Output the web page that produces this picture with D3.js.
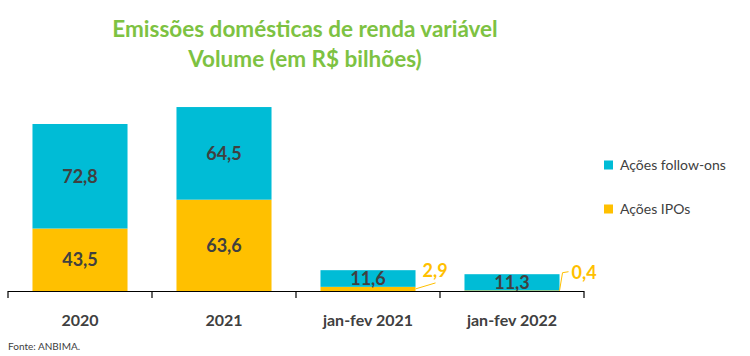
<!DOCTYPE html>
<html><head><meta charset="utf-8">
<script src="https://cdn.jsdelivr.net/npm/d3@7"></script>
<style>body{margin:0;background:#fff}svg{display:block;font-family:Lato,"Open Sans",sans-serif}</style>
</head><body><svg id="c" width="750" height="356"></svg>
<script>
const categories = ["2020","2021","jan-fev 2021","jan-fev 2022"];
const ipos = [43.5, 63.6, 2.9, 0.4];
const followOns = [72.8, 64.5, 11.6, 11.3];
const seriesNames = ["Ações follow-ons","Ações IPOs"];
const titleLines = ["Emissões domésticas de renda variável","Volume (em R$ bilhões)"];
const source = "Fonte: ANBIMA.";

const cyan = "#00BCD6", yellow = "#FFC000", dark = "#404040";
const svg = d3.select("#c");
const fmt = v => d3.format(".1f")(v).replace(".", ",");

const x = d3.scaleBand().domain(categories).range([8, 584]).paddingInner(0.34).paddingOuter(0.17);
const y = d3.scaleLinear().domain([0, 100]).range([291, 147.4]);

const data = categories.map((c,i)=>({c, ipo: ipos[i], fo: followOns[i]}));

// bars
const g = svg.append("g");
g.selectAll(".ipo").data(data).join("rect")
  .attr("x", d=>x(d.c)).attr("width", x.bandwidth())
  .attr("y", d=>y(d.ipo)).attr("height", d=>y(0)-y(d.ipo)).attr("fill", yellow);
g.selectAll(".fo").data(data).join("rect")
  .attr("x", d=>x(d.c)).attr("width", x.bandwidth())
  .attr("y", d=>y(d.ipo+d.fo)).attr("height", d=>y(d.ipo)-y(d.ipo+d.fo)).attr("fill", cyan);

// axis
const axis = svg.append("g");
axis.append("line").attr("x1",8).attr("x2",584).attr("y1",y(0)+0.5).attr("y2",y(0)+0.5).attr("stroke","#000").attr("stroke-width",1.2);
const bounds = categories.map((_,i)=>8+i*x.step());
bounds.push(584);
axis.selectAll(".t").data(bounds).join("line")
  .attr("x1",d=>d).attr("x2",d=>d).attr("y1",y(0)).attr("y2",y(0)+7).attr("stroke","#000").attr("stroke-width",1.2);
axis.selectAll(".cl").data(categories).join("text")
  .attr("x", d=>x(d)+x.bandwidth()/2).attr("y", 326).attr("text-anchor","middle")
  .attr("font-size",16).attr("font-weight","bold").attr("fill",dark).text(d=>d);

// value labels
const big = data.filter(d=>d.ipo>10);
g.selectAll(".li").data(big).join("text")
  .attr("x", d=>x(d.c)+x.bandwidth()/2).attr("y", d=>(y(0)+y(d.ipo))/2+6.5)
  .attr("text-anchor","middle").attr("font-size",18).attr("font-weight","bold").attr("fill",dark).text(d=>fmt(d.ipo));
g.selectAll(".lf").data(data).join("text")
  .attr("x", d=>x(d.c)+x.bandwidth()/2).attr("y", d=>(y(d.ipo)+y(d.ipo+d.fo))/2+6.5)
  .attr("text-anchor","middle").attr("font-size",18).attr("font-weight","bold").attr("fill",dark).text(d=>fmt(d.fo));

// callouts for small IPO values
const small = data.filter(d=>d.ipo<10);
small.forEach((d,i)=>{
  const xr = x(d.c)+x.bandwidth();
  const ym = y(d.ipo/2);
  if(i===0){
    svg.append("polyline").attr("points",`${xr},${ym} ${xr+20},${ym-6}`).attr("fill","none").attr("stroke",yellow).attr("stroke-width",1);
    svg.append("text").attr("x",xr+7).attr("y",ym-12).attr("font-size",18).attr("font-weight","bold").attr("fill",yellow).text(fmt(d.ipo));
  } else {
    svg.append("polyline").attr("points",`${xr},${ym} ${xr+3},${ym-18} ${xr+9},${ym-19}`).attr("fill","none").attr("stroke",yellow).attr("stroke-width",1);
    svg.append("text").attr("x",xr+12).attr("y",ym-12).attr("font-size",18).attr("font-weight","bold").attr("fill",yellow).text(fmt(d.ipo));
  }
});

// title
svg.selectAll(".title").data(titleLines).join("text")
  .attr("x",305).attr("y",(d,i)=>37+i*30).attr("text-anchor","middle")
  .attr("font-size",22.5).attr("font-weight","bold").attr("fill","#7DC242").text(d=>d);

// legend
const lg = svg.append("g");
const lc = [cyan, yellow];
seriesNames.forEach((n,i)=>{
  const yy = 165 + i*44;
  lg.append("rect").attr("x",604).attr("y",yy-4.5).attr("width",9).attr("height",9).attr("fill",lc[i]);
  lg.append("text").attr("x",620).attr("y",yy+5).attr("font-size",14).attr("fill",dark).text(n);
});

svg.append("text").attr("x",8).attr("y",350).attr("font-size",10).attr("fill",dark).text(source);
</script></body></html>
